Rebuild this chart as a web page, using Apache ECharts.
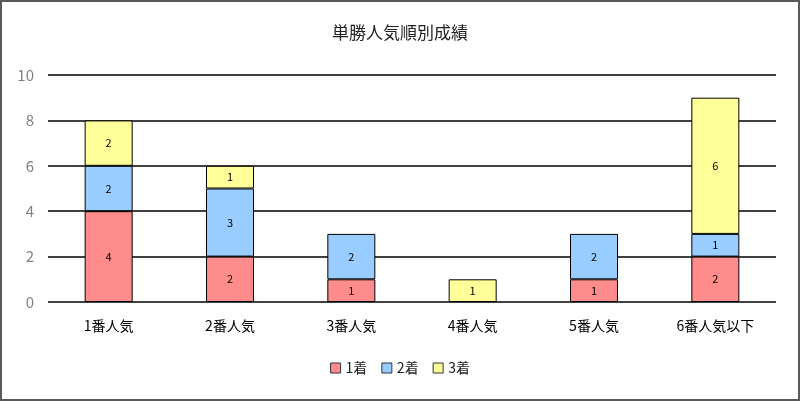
<!DOCTYPE html>
<html><head><meta charset="utf-8">
<script src="https://cdn.jsdelivr.net/npm/echarts@6/dist/echarts.min.js"></script>
<style>html,body{margin:0;padding:0;background:#fff}#c{width:800px;height:401px}</style>
</head><body><div id="c"></div>
<script>
const categories = ['1番人気','2番人気','3番人気','4番人気','5番人気','6番人気以下'];
const seriesNames = ['1着','2着','3着'];
const first = [4,2,1,0,1,2];
const second = [2,3,2,0,2,1];
const third = [2,1,0,1,0,6];
const yTicks = [0,2,4,6,8,10];
const colors = ['#FF8C8C','#99CCFF','#FFFF99'];
const font = '"Noto Sans CJK JP", sans-serif';
const chart = echarts.init(document.getElementById('c'), null, {renderer:'canvas'});
const mk = (name, data, color) => ({
  name, type:'bar', stack:'t', data: data.map(v => v === 0 ? null : v), barWidth:48,
  itemStyle:{color, borderColor:'#000', borderWidth:1},
  label:{show:true, position:'inside', color:'#000', fontSize:11, fontFamily:font},
  emphasis:{disabled:true}
});
chart.setOption({
  animation:false,
  textStyle:{fontFamily:font},
  title:{text:'単勝人気順別成績', left:'center', top:19, textStyle:{fontSize:17, fontWeight:'normal', color:'#222', fontFamily:font}},
  graphic:[{type:'rect', shape:{x:1,y:1,width:798,height:399}, style:{fill:'none', stroke:'#595959', lineWidth:2}, silent:true}],
  legend:{bottom:21, left:'center', itemWidth:10, itemHeight:10, itemGap:14, icon:'rect',
    textStyle:{fontSize:14, color:'#222', fontFamily:font}, data:seriesNames,
    itemStyle:{borderColor:'#333', borderWidth:1}},
  grid:{left:48, right:24, top:75, bottom:99},
  xAxis:{type:'category', data:categories, axisLine:{show:false}, axisTick:{show:false},
    axisLabel:{color:'#000', fontSize:14, margin:17, fontFamily:font}},
  yAxis:{type:'value', min:yTicks[0], max:yTicks[yTicks.length-1], interval:2,
    axisLine:{show:false}, axisTick:{show:false},
    axisLabel:{color:'#808080', fontSize:15, margin:14, fontFamily:font},
    splitLine:{lineStyle:{color:'#000', width:1.5}}},
  series:[mk(seriesNames[0], first, colors[0]), mk(seriesNames[1], second, colors[1]), mk(seriesNames[2], third, colors[2])]
});
</script></body></html>
